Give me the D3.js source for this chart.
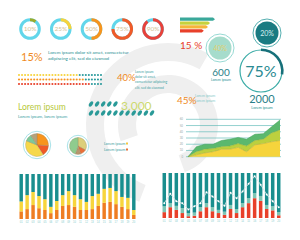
<!DOCTYPE html>
<html>
<head>
<meta charset="utf-8">
<script src="https://cdn.jsdelivr.net/npm/d3@7"></script>
<style>
  body { margin: 0; background: #fff; }
  svg { display: block; font-family: Lato, "Open Sans", sans-serif; }
</style>
</head>
<body>
<svg id="chart" width="300" height="240"></svg>
<script>
// ---- data ----
const donutValues = [10, 25, 50, 75, 90];
const donutColors = ["#9aab2c", "#f6d33c", "#f7941d", "#f05a28", "#e8413a"];

const arrowBarValues = [100, 86, 80, 68];
const arrowBarColors = ["#3aa89a", "#c6d23c", "#f5b53a", "#e8402a"];

const dotTotal = 28;
const dotFilled = [20, 22, 24];
const dotColors = ["#f6d33c", "#f7941d", "#e8402a"];

const leafRows = [5, 11];

const pie1Values = [26, 15, 40, 10, 9];
const pie1Colors = ["#f7941d", "#f05a28", "#f6d84a", "#7dc99a", "#b5a27c"];
const pie2Values = [33, 12, 10, 45];
const pie2Colors = ["#dccf7a", "#e8703a", "#b8966e", "#8fcb8e"];

const areaTicks = [0, 10, 20, 30, 40, 50, 60];
const areaYellow = [0, 3, 6, 8, 12, 12, 15, 8, 19, 21, 24, 26];
const areaLime = [0, 5, 6, 5, 4, 5, 6, 9, 7, 7, 14, 17];
const areaGreen = [0, 8, 8, 7, 10, 11, 10, 11, 10, 9, 10, 16];

const barLabels = d3.range(1, 21).map(d => String(d).padStart(2, "0"));
const leftOrange = [17, 22, 31, 24, 20, 13, 20, 29, 31, 27, 20, 20, 22, 29, 36, 38, 33, 27, 22, 9];
const leftYellow = [22, 31, 29, 27, 24, 14, 20, 24, 31, 26, 24, 18, 29, 27, 31, 31, 29, 22, 25, 11];

const rightRed = [13, 24, 18, 11, 4, 5, 15, 24, 15, 11, 7, 20, 11, 24, 33, 44, 38, 20, 17, 6];
const rightMint = [13, 9, 9, 11, 7, 7, 9, 9, 9, 7, 7, 9, 9, 9, 11, 11, 11, 9, 9, 7];
const rightLine = [33, 54, 37, 33, 19, 26, 33, 57, 48, 37, 27, 56, 44, 59, 76, 93, 74, 52, 37, 24];

const teal = "#1f8f92";
const lightText = "#3a9ea2";

const svg = d3.select("#chart");

// background spiral
const bg = svg.append("g").attr("transform", "translate(168,125)");
bg.append("path").attr("fill", "#efefef")
  .attr("d", d3.arc()({innerRadius: 64, outerRadius: 82, startAngle: 3.5, endAngle: 6.8}));
bg.append("path").attr("fill", "#efefef")
  .attr("d", d3.arc()({innerRadius: 32, outerRadius: 50, startAngle: -1.9, endAngle: 2.8}));

// ---- donuts ----
const donutX = d3.scalePoint().domain(donutValues).range([30, 153]);
const donutArc = d3.arc().innerRadius(7.8).outerRadius(10.8);
donutValues.forEach((v, i) => {
  const g = svg.append("g").attr("transform", `translate(${donutX(v)},29)`);
  g.append("path").attr("fill", "#62d6ea")
    .attr("d", donutArc({startAngle: 0, endAngle: Math.PI * 2}));
  g.append("path").attr("fill", donutColors[i])
    .attr("d", donutArc({startAngle: 0, endAngle: Math.PI * 2 * v / 100}));
  g.append("text").attr("text-anchor", "middle").attr("y", 2.2)
    .attr("font-size", 6.5).attr("fill", "#d4bf96").text(v + "%");
});

// ---- 15% with lorem ----
svg.append("text").attr("x", 21).attr("y", 61).attr("font-size", 11)
  .attr("fill", "#f08a24").text("15%");
svg.append("text").attr("x", 48).attr("y", 54).attr("font-size", 4.6)
  .attr("fill", teal).text("Lorem ipsum dolor sit amet, consectetur");
svg.append("text").attr("x", 48).attr("y", 60).attr("font-size", 4.6)
  .attr("fill", teal).text("adipiscing elit, sed do eiusmod");

// ---- dot rows ----
const dotX = d3.scaleLinear().domain([0, dotTotal - 1]).range([19, 101]);
const dotY = d3.scalePoint().domain([0, 1, 2]).range([75, 84]);
dotFilled.forEach((n, r) => {
  svg.append("g").selectAll("circle").data(d3.range(dotTotal)).join("circle")
    .attr("cx", d => dotX(d)).attr("cy", dotY(r)).attr("r", 1.05)
    .attr("fill", d => d < n ? dotColors[r] : "#2a9a9c");
});

svg.append("text").attr("x", 117).attr("y", 81).attr("font-size", 9.5)
  .attr("fill", "#f08a24").text("40%");
["Lorem ipsum", "dolor sit amet,", "consectetur adipiscing", "elit, sed do eiusmod"].forEach((t, i) => {
  svg.append("text").attr("x", 135).attr("y", 73 + i * 5.2).attr("font-size", 3.3)
    .attr("fill", lightText).text(t);
});

// ---- Lorem ipsum + leaves ----
svg.append("text").attr("x", 18).attr("y", 110).attr("font-size", 8.5)
  .attr("fill", "#b7c93a").text("Lorem ipsum");
svg.append("text").attr("x", 18).attr("y", 118).attr("font-size", 4.3)
  .attr("fill", lightText).text("Lorem ipsum, lorem ipsum");

const leafX = d3.scaleLinear().domain([0, 10]).range([91, 152]);
const leafY = d3.scalePoint().domain([0, 1]).range([104, 113]);
leafRows.forEach((n, r) => {
  svg.append("g").selectAll("ellipse").data(d3.range(n)).join("ellipse")
    .attr("transform", d => `translate(${leafX(d)},${leafY(r)}) rotate(35)`)
    .attr("rx", 1.7).attr("ry", 2.9).attr("fill", "#2a9a98");
});
svg.append("text").attr("x", 121).attr("y", 110).attr("font-size", 12)
  .attr("fill", "#ccd96e").text("3,000");

// ---- pies ----
const drawPie = (vals, cols, cx, cy, r) => {
  const g = svg.append("g").attr("transform", `translate(${cx},${cy})`);
  g.append("circle").attr("r", r + 2.2).attr("fill", "#fff")
    .attr("stroke", "#a8e2e8").attr("stroke-width", 1);
  const arcs = d3.pie().sort(null)(vals);
  g.selectAll("path").data(arcs).join("path")
    .attr("d", d3.arc().innerRadius(0).outerRadius(r))
    .attr("fill", (d, i) => cols[i]).attr("stroke", "#8a8060").attr("stroke-width", 0.3);
};
drawPie(pie1Values, pie1Colors, 37, 145, 11.5);
drawPie(pie2Values, pie2Colors, 78, 146, 8.5);
["Lorem ipsum", "Lorem ipsum"].forEach((t, i) => {
  svg.append("text").attr("x", 104).attr("y", 145 + i * 6).attr("font-size", 3.8)
    .attr("fill", lightText).text(t);
  svg.append("rect").attr("x", 126).attr("y", 142.5 + i * 6).attr("width", 2).attr("height", 2)
    .attr("fill", i ? "#e8703a" : "#f5c842");
});

// ---- top right arrow bars ----
const arrowX = d3.scaleLinear().domain([0, 100]).range([180, 215]);
const arrowY = d3.scaleBand().domain(d3.range(4)).range([17, 33]).padding(0.15);
arrowBarValues.forEach((v, i) => {
  const y0 = arrowY(i), h = arrowY.bandwidth(), x1 = arrowX(v);
  svg.append("path").attr("fill", arrowBarColors[i])
    .attr("d", `M${arrowX(0)},${y0}H${x1 - 2}L${x1},${y0 + h / 2}L${x1 - 2},${y0 + h}H${arrowX(0)}Z`);
});
svg.append("text").attr("x", 180).attr("y", 49).attr("font-size", 10)
  .attr("fill", "#e8402a").text("15 %");

// ---- circles ----
const c20 = svg.append("g").attr("transform", "translate(267,33)");
c20.append("circle").attr("r", 14).attr("fill", "none").attr("stroke", "#2a9a9c").attr("stroke-width", 0.8);
c20.append("circle").attr("r", 11.5).attr("fill", "#1a7b82");
c20.append("text").attr("text-anchor", "middle").attr("y", 2.5).attr("font-size", 7)
  .attr("fill", "#d8eef0").text("20%");

const c40 = svg.append("g").attr("transform", "translate(220,48)");
c40.append("circle").attr("r", 14).attr("fill", "none").attr("stroke", "#7ccfc8").attr("stroke-width", 0.8);
c40.append("circle").attr("r", 11.5).attr("fill", "#a6dccc");
c40.append("text").attr("text-anchor", "middle").attr("y", 2.5).attr("font-size", 7)
  .attr("fill", "#e0d070").text("40%");
svg.append("text").attr("x", 221).attr("y", 76).attr("text-anchor", "middle")
  .attr("font-size", 10).attr("fill", "#2a7f88").text("600");
svg.append("text").attr("x", 221).attr("y", 81).attr("text-anchor", "middle")
  .attr("font-size", 3.6).attr("fill", teal).text("Lorem ipsum");

const c75 = svg.append("g").attr("transform", "translate(261,71)");
c75.append("circle").attr("r", 21).attr("fill", "none").attr("stroke", "#3aaba6").attr("stroke-width", 1.2);
c75.append("path").attr("fill", "#17707a")
  .attr("d", d3.arc()({innerRadius: 20, outerRadius: 22.6, startAngle: 0, endAngle: Math.PI * 0.55}));
c75.append("text").attr("text-anchor", "middle").attr("y", 5.5).attr("font-size", 16)
  .attr("fill", "#2a8a92").text("75%");
svg.append("text").attr("x", 262).attr("y", 103).attr("text-anchor", "middle")
  .attr("font-size", 11).attr("fill", "#2a7f88").text("2000");
svg.append("text").attr("x", 262).attr("y", 109).attr("text-anchor", "middle")
  .attr("font-size", 3.8).attr("fill", teal).text("Lorem ipsum");

svg.append("text").attr("x", 177).attr("y", 104).attr("font-size", 10)
  .attr("fill", "#f08a24").text("45%");
["Lorem ipsum", "Lorem ipsum"].forEach((t, i) => {
  svg.append("text").attr("x", 195).attr("y", 97 + i * 5).attr("font-size", 3.6)
    .attr("fill", "#7fc8c8").text(t);
});

// ---- area chart ----
const areaX = d3.scaleLinear().domain([0, areaYellow.length - 1]).range([188, 280]);
const areaYs = d3.scaleLinear().domain([0, 60]).range([156.7, 119.3]);
const areaG = svg.append("g");
areaG.selectAll("line").data(areaTicks).join("line")
  .attr("x1", 186).attr("x2", 281).attr("y1", d => areaYs(d)).attr("y2", d => areaYs(d))
  .attr("stroke", "#4fb3b0").attr("stroke-width", 0.6);
areaG.selectAll("text").data(areaTicks).join("text")
  .attr("x", 183).attr("y", d => areaYs(d) + 1).attr("text-anchor", "end")
  .attr("font-size", 2.8).attr("fill", "#9aa").text(d => d);
const areaRows = areaYellow.map((d, i) => ({yellow: d, lime: areaLime[i], green: areaGreen[i]}));
const stacked = d3.stack().keys(["yellow", "lime", "green"])(areaRows);
const areaColors = {yellow: "#f6d43c", lime: "#bcd03e", green: "#5bb86e"};
const lineColors = {yellow: "#a8a830", lime: "#7ea83a", green: "#3a9a58"};
const areaGen = d3.area().x((d, i) => areaX(i)).y0(d => areaYs(d[0])).y1(d => areaYs(d[1]));
const topGen = d3.line().x((d, i) => areaX(i)).y(d => areaYs(d[1]));
stacked.slice().reverse().forEach(s => {
  areaG.append("path").attr("d", areaGen(s)).attr("fill", areaColors[s.key]);
});
stacked.forEach(s => {
  areaG.append("path").attr("d", topGen(s)).attr("fill", "none")
    .attr("stroke", lineColors[s.key]).attr("stroke-width", 0.5);
});

// ---- bottom left stacked bars ----
const lx = d3.scaleBand().domain(barLabels).range([17, 138]).padding(0.42);
const ly = d3.scaleLinear().domain([0, 100]).range([219, 174]);
const leftG = svg.append("g");
barLabels.forEach((lab, i) => {
  const segs = [
    [0, leftOrange[i], "#ef7d22"],
    [leftOrange[i], leftOrange[i] + leftYellow[i], "#f7d53c"],
    [leftOrange[i] + leftYellow[i], 100, "#198e8e"]
  ];
  segs.forEach(s => {
    leftG.append("rect").attr("x", lx(lab)).attr("width", lx.bandwidth())
      .attr("y", ly(s[1])).attr("height", ly(s[0]) - ly(s[1])).attr("fill", s[2]);
  });
});
leftG.append("g").attr("transform", "translate(0,219)")
  .call(d3.axisBottom(lx).tickSize(0).tickPadding(2))
  .call(g => g.select(".domain").remove())
  .call(g => g.selectAll("text").attr("font-size", 2.6).attr("fill", "#8cc"));

// ---- bottom right stacked bars + line ----
const rx = d3.scaleBand().domain(barLabels).range([160, 283]).padding(0.42);
const ry = d3.scaleLinear().domain([0, 100]).range([218, 173]);
const rightG = svg.append("g");
barLabels.forEach((lab, i) => {
  const segs = [
    [0, rightRed[i], "#e8402a"],
    [rightRed[i], rightRed[i] + rightMint[i], "#7fc6b4"],
    [rightRed[i] + rightMint[i], 100, "#198e8e"]
  ];
  segs.forEach(s => {
    rightG.append("rect").attr("x", rx(lab)).attr("width", rx.bandwidth())
      .attr("y", ry(s[1])).attr("height", ry(s[0]) - ry(s[1])).attr("fill", s[2]);
  });
});
rightG.append("path")
  .attr("d", d3.line().x((d, i) => rx(barLabels[i]) + rx.bandwidth() / 2).y(d => ry(d))(rightLine))
  .attr("fill", "none").attr("stroke", "#dfe8ea").attr("stroke-width", 0.8);
rightG.selectAll("circle").data(rightLine).join("circle")
  .attr("cx", (d, i) => rx(barLabels[i]) + rx.bandwidth() / 2).attr("cy", d => ry(d))
  .attr("r", 1).attr("fill", "#fff");
rightG.append("g").attr("transform", "translate(0,218)")
  .call(d3.axisBottom(rx).tickSize(0).tickPadding(2))
  .call(g => g.select(".domain").remove())
  .call(g => g.selectAll("text").attr("font-size", 2.6).attr("fill", "#8cc"));
</script>
</body>
</html>
